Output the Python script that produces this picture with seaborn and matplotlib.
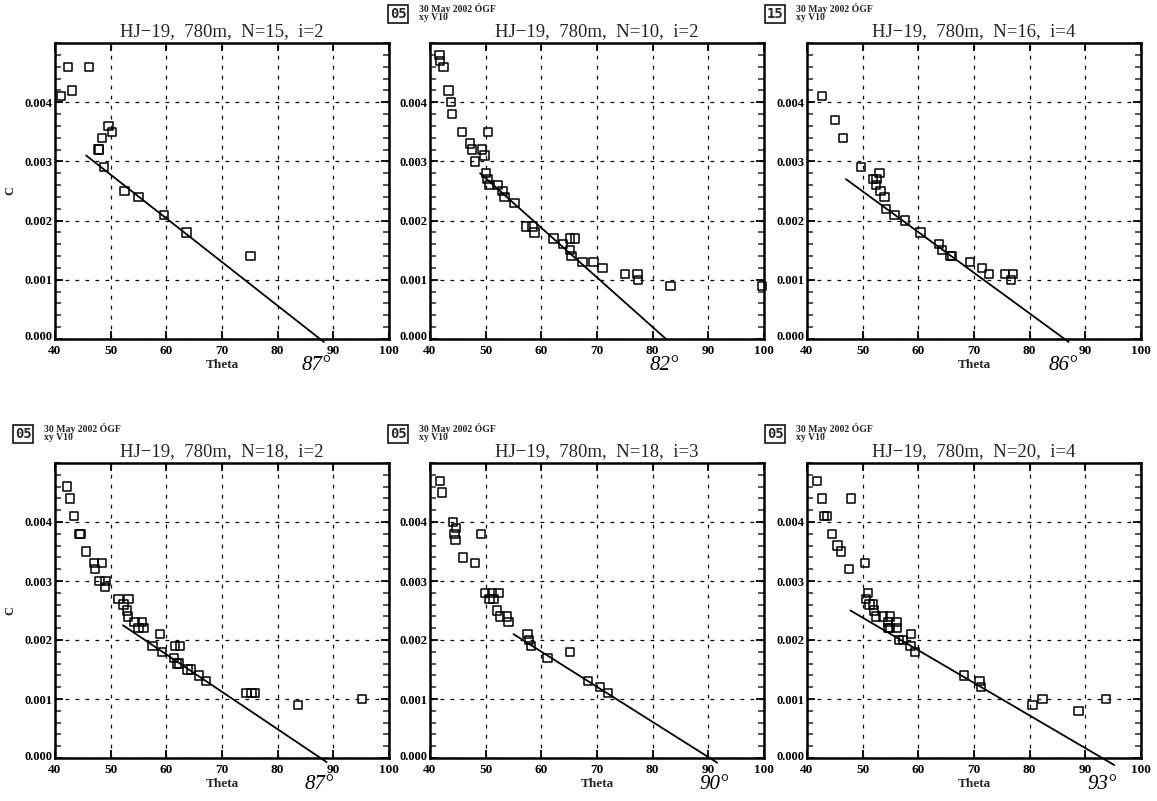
import numpy as np
import pandas as pd
import matplotlib
matplotlib.use("Agg")
import matplotlib.pyplot as plt
import matplotlib.transforms as mtransforms
import seaborn as sns

# ---------------- data ----------------
titles = ["HJ\u221219,  780m,  N=15,  i=2", "HJ\u221219,  780m,  N=10,  i=2",
          "HJ\u221219,  780m,  N=16,  i=4", "HJ\u221219,  780m,  N=18,  i=2",
          "HJ\u221219,  780m,  N=18,  i=3", "HJ\u221219,  780m,  N=20,  i=4"]
header_ids = [None, "05", "15", "05", "05", "05"]
header_line1 = "30 May 2002 \u00d3GF"
header_line2 = "xy V10"
angle_labels = ["87\u00b0", "82\u00b0", "86\u00b0", "87\u00b0", "90\u00b0", "93\u00b0"]
angle_x = [87, 82, 86, 87.5, 91, 93]
show_xlabel = [True, False, True, True, True, True]
show_ylabel = [True, False, False, True, False, False]

theta_1 = [41.1, 42.3, 43.1, 46.1, 49.6, 50.2, 48.4, 47.8, 47.9, 48.8, 52.5, 55.0, 59.6, 63.6, 75.1]
c_1 = [0.0041, 0.0046, 0.0042, 0.0046, 0.0036, 0.0035, 0.0034, 0.0032, 0.0032, 0.0029, 0.0025, 0.0024, 0.0021, 0.0018, 0.0014]
fit_theta_1 = [45.6, 88.3]
fit_c_1 = [0.0031, -0.00005]

theta_2 = [41.7, 41.8, 42.4, 43.3, 43.8, 43.9, 45.8, 50.4, 47.2, 47.6, 49.3, 49.8, 48.1, 50.1,
           50.3, 50.7, 52.1, 53.0, 53.4, 55.2, 57.3, 58.4, 58.8, 62.2, 63.9, 65.1, 66.1, 65.1,
           65.4, 67.4, 69.4, 71.0, 75.0, 77.3, 77.4, 83.2, 99.6]
c_2 = [0.0048, 0.0047, 0.0046, 0.0042, 0.0040, 0.0038, 0.0035, 0.0035, 0.0033, 0.0032, 0.0032,
       0.0031, 0.0030, 0.0028, 0.0027, 0.0026, 0.0026, 0.0025, 0.0024, 0.0023, 0.0019, 0.0019,
       0.0018, 0.0017, 0.0016, 0.0017, 0.0017, 0.0015, 0.0014, 0.0013, 0.0013, 0.0012, 0.0011,
       0.0011, 0.0010, 0.0009, 0.0009]
fit_theta_2 = [49.0, 82.4]
fit_c_2 = [0.0028, 0.0]

theta_3 = [42.7, 45.0, 46.5, 49.7, 51.9, 52.4, 52.5, 53.0, 53.2, 53.9, 54.2, 55.7, 57.6, 60.4,
           63.7, 64.2, 65.8, 66.1, 69.3, 71.4, 72.7, 75.6, 77.0, 76.7]
c_3 = [0.0041, 0.0037, 0.0034, 0.0029, 0.0027, 0.0026, 0.0027, 0.0028, 0.0025, 0.0024, 0.0022,
       0.0021, 0.0020, 0.0018, 0.0016, 0.0015, 0.0014, 0.0014, 0.0013, 0.0012, 0.0011, 0.0011,
       0.0011, 0.0010]
fit_theta_3 = [47.0, 87.0]
fit_c_3 = [0.0027, -0.00005]

theta_4 = [42.1, 42.7, 43.4, 44.4, 44.6, 45.6, 47.0, 48.4, 47.2, 48.0, 49.1, 49.0, 51.4, 53.2,
           52.3, 52.9, 53.1, 54.3, 55.6, 55.0, 55.9, 58.9, 57.5, 59.2, 61.6, 62.5, 61.4, 61.9,
           62.3, 63.8, 64.4, 65.9, 67.1, 74.4, 75.3, 75.9, 83.7, 95.1]
c_4 = [0.0046, 0.0044, 0.0041, 0.0038, 0.0038, 0.0035, 0.0033, 0.0033, 0.0032, 0.0030, 0.0030,
       0.0029, 0.0027, 0.0027, 0.0026, 0.0025, 0.0024, 0.0023, 0.0023, 0.0022, 0.0022, 0.0021,
       0.0019, 0.0018, 0.0019, 0.0019, 0.0017, 0.0016, 0.0016, 0.0015, 0.0015, 0.0014, 0.0013,
       0.0011, 0.0011, 0.0011, 0.0009, 0.0010]
fit_theta_4 = [52.2, 88.8]
fit_c_4 = [0.00225, -0.00007]

theta_5 = [41.8, 42.2, 44.1, 44.7, 44.4, 44.6, 45.9, 48.1, 49.2, 49.9, 51.1, 52.3, 50.7, 51.4,
           52.0, 52.6, 53.8, 54.1, 57.5, 57.8, 58.1, 61.1, 65.1, 68.4, 70.5, 72.0]
c_5 = [0.0047, 0.0045, 0.0040, 0.0039, 0.0038, 0.0037, 0.0034, 0.0033, 0.0038, 0.0028, 0.0028,
       0.0028, 0.0027, 0.0027, 0.0025, 0.0024, 0.0024, 0.0023, 0.0021, 0.0020, 0.0019, 0.0017,
       0.0018, 0.0013, 0.0012, 0.0011]
fit_theta_5 = [55.0, 91.6]
fit_c_5 = [0.0021, -0.00008]

theta_6 = [41.8, 42.7, 47.9, 43.1, 43.6, 44.5, 45.5, 46.1, 47.5, 50.4, 50.6, 51.0, 51.2, 51.8,
           52.0, 52.4, 53.6, 54.9, 54.6, 56.1, 54.5, 54.9, 56.2, 56.5, 57.2, 58.7, 58.6, 59.4,
           68.2, 71.0, 71.3, 80.5, 82.3, 88.8, 93.7]
c_6 = [0.0047, 0.0044, 0.0044, 0.0041, 0.0041, 0.0038, 0.0036, 0.0035, 0.0032, 0.0033, 0.0027,
       0.0028, 0.0026, 0.0026, 0.0025, 0.0024, 0.0024, 0.0024, 0.0023, 0.0023, 0.0022, 0.0022,
       0.0022, 0.0020, 0.0020, 0.0021, 0.0019, 0.0018, 0.0014, 0.0013, 0.0012, 0.0009, 0.0010,
       0.0008, 0.0010]
fit_theta_6 = [47.8, 95.2]
fit_c_6 = [0.0025, -0.00012]

panels = [(theta_1, c_1, fit_theta_1, fit_c_1), (theta_2, c_2, fit_theta_2, fit_c_2),
          (theta_3, c_3, fit_theta_3, fit_c_3), (theta_4, c_4, fit_theta_4, fit_c_4),
          (theta_5, c_5, fit_theta_5, fit_c_5), (theta_6, c_6, fit_theta_6, fit_c_6)]

x_ticks = [40, 50, 60, 70, 80, 90, 100]
y_ticks = [0.000, 0.001, 0.002, 0.003, 0.004]

# ---------------- layout ----------------
sns.set_theme(style="white")
plt.rcParams['font.family'] = ['Liberation Serif', 'DejaVu Serif']

W, H = 1157, 801
fig = plt.figure(figsize=(W / 100, H / 100), dpi=100)
fig.patch.set_facecolor("white")

lefts_px = [55, 430, 807]
width_px = 334
rows = [(43, 339), (463, 758)]

for k, (th, cc, fth, fc) in enumerate(panels):
    r, col = divmod(k, 3)
    top_px, bot_px = rows[r]
    ax = fig.add_axes([lefts_px[col] / W, 1 - bot_px / H, width_px / W, (bot_px - top_px) / H])
    ax.set_facecolor("white")

    df = pd.DataFrame({"Theta": th, "C": cc})
    sns.scatterplot(data=df, x="Theta", y="C", ax=ax, marker="s", s=36,
                    facecolor="none", edgecolor="black", linewidth=1.1, zorder=3, clip_on=False)
    fdf = pd.DataFrame({"Theta": fth, "C": fc})
    sns.lineplot(data=fdf, x="Theta", y="C", ax=ax, color="black", linewidth=1.3,
                 zorder=4, clip_on=False)

    ax.set_xlim(40, 100)
    ax.set_ylim(0, 0.005)
    ax.set_xticks(x_ticks)
    ax.set_yticks(y_ticks)
    ax.set_yticks(np.arange(0, 0.0050001, 0.0002), minor=True)
    ax.set_xticklabels([str(v) for v in x_ticks], fontsize=9.5, fontweight="bold")
    ax.set_yticklabels([f"{v:.3f}" for v in y_ticks], fontsize=9, fontweight="bold")
    ax.tick_params(axis="x", which="major", pad=4)
    ax.tick_params(axis="both", which="major", direction="in", length=6, width=1.3,
                   top=True, right=True, bottom=True, left=True, colors="black")
    ax.tick_params(axis="y", which="major", pad=2)
    ax.tick_params(axis="y", which="minor", direction="in", length=4, width=1.1,
                   left=True, right=True)
    # lift the "0.000" label slightly, as in the original
    lbl0 = ax.get_yticklabels()[0]
    lbl0.set_transform(lbl0.get_transform() +
                       mtransforms.ScaledTranslation(0, 3 / 100, fig.dpi_scale_trans))
    ax.grid(True, which="major", color="black", linestyle=(0, (3, 5)), linewidth=0.9)
    for s in ax.spines.values():
        s.set_visible(True)
        s.set_color("black")
        s.set_linewidth(1.8)

    ax.set_xlabel("Theta" if show_xlabel[k] else "", fontsize=9.5, fontweight="bold", labelpad=2)
    ax.set_ylabel("C" if show_ylabel[k] else "", fontsize=9, fontweight="bold", labelpad=6)
    ax.set_title(titles[k], fontsize=13.5, pad=5)

    # handwritten angle annotation below axis
    trans = mtransforms.blended_transform_factory(ax.transData, ax.transAxes)
    ax.text(angle_x[k], -0.09, angle_labels[k], transform=trans, fontsize=15,
            fontstyle="italic", ha="center", va="center", color="black")

    # header stamp
    if header_ids[k] is not None:
        hx = (lefts_px[col] - 40) / W
        hy = 1 - (top_px - 29) / H
        fig.text(hx, hy, header_ids[k], fontsize=10, fontweight="bold", ha="left", va="center",
                 family="DejaVu Sans Mono",
                 bbox=dict(boxstyle="square,pad=0.12", fc="white", ec="black", lw=1.1))
        fig.text(hx + 29 / W, hy + 5 / H, header_line1, fontsize=7, fontweight="bold",
                 ha="left", va="center")
        fig.text(hx + 29 / W, hy - 4 / H, header_line2, fontsize=7, fontweight="bold",
                 ha="left", va="center")

fig.savefig("out.png", dpi=100, facecolor="white")
